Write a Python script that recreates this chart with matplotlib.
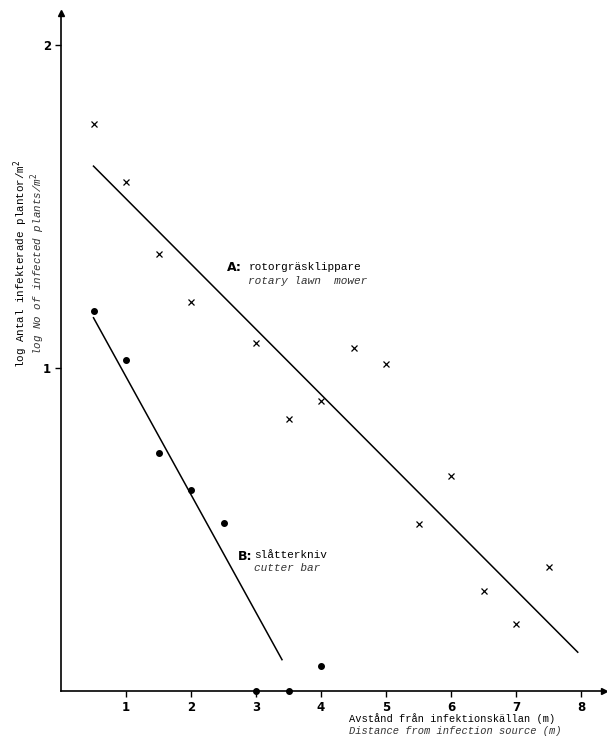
import numpy as np
from matplotlib import pyplot as plt

# A: rotorgräsklippare (kryss)
avstand_a = [0.5, 1.0, 1.5, 2.0, 3.0, 3.5, 4.0, 4.5, 5.0, 5.5, 6.0, 6.5, 7.0, 7.5]
logantal_a = [1.755, 1.576, 1.353, 1.204, 1.077, 0.842, 0.898, 1.062, 1.012, 0.517, 0.666, 0.310, 0.207, 0.384]

# B: slåtterkniv (cirklar)
avstand_b = [0.5, 1.0, 1.5, 2.0, 2.5, 3.0, 3.5, 4.0]
logantal_b = [1.176, 1.025, 0.737, 0.622, 0.520, 0.0, 0.0, 0.078]

# regressionslinjer: intercept, lutning, x-intervall
linje_a = (1.726, -0.202, 0.5, 7.95)
linje_b = (1.338, -0.365, 0.5, 3.40)

x_ticks = [1, 2, 3, 4, 5, 6, 7, 8]
y_ticks = [1, 2]

mono = 'Liberation Mono'

fig = plt.figure(figsize=(6.07, 7.48), dpi=100)
ax = fig.add_axes([61 / 607, 57 / 748, 8.35 * 65 / 607, 2.1 * 323 / 748])
ax.set_xlim(0, 8.35)
ax.set_ylim(0, 2.1)

for spine in ['top', 'right']:
    ax.spines[spine].set_visible(False)
for spine in ['left', 'bottom']:
    ax.spines[spine].set_linewidth(1.2)

# pilar på axlarna
ax.plot(1, 0, '>k', markersize=5, transform=ax.get_yaxis_transform(), clip_on=False)
ax.plot(0, 1, '^k', markersize=5, transform=ax.get_xaxis_transform(), clip_on=False)

ax.set_xticks(x_ticks)
ax.set_yticks(y_ticks)
ax.tick_params(direction='out', length=4, width=1, pad=3)
for lab in ax.get_xticklabels() + ax.get_yticklabels():
    lab.set_fontweight('bold')
    lab.set_fontsize(8.5)

ax.plot(avstand_a, logantal_a, 'x', color='black', markersize=4, markeredgewidth=0.9, clip_on=False)
ax.plot(avstand_b, logantal_b, 'o', color='black', markersize=4, clip_on=False, zorder=5)

for b0, b1, x0, x1 in [linje_a, linje_b]:
    xs = np.array([x0, x1])
    ax.plot(xs, b0 + b1 * xs, color='black', linewidth=1.1)

# etiketter vid linjerna
ax.text(2.55, 1.31, 'A:', fontsize=9, fontweight='bold', va='center')
ax.text(2.88, 1.313, 'rotorgräsklippare', family=mono, fontsize=8, va='center')
ax.text(2.88, 1.27, 'rotary lawn  mower', family=mono, fontsize=8, style='italic', va='center', color='#333333')

ax.text(2.72, 0.415, 'B:', fontsize=9, fontweight='bold', va='center')
ax.text(2.97, 0.42, 'slåtterkniv', family=mono, fontsize=8, va='center')
ax.text(2.97, 0.38, 'cutter bar', family=mono, fontsize=8, style='italic', va='center', color='#333333')

# axeltitlar
fig.text(349 / 607, 1 - 719 / 748, 'Avstånd från infektionskällan (m)', family=mono, fontsize=7.5, va='center')
fig.text(349 / 607, 1 - 731 / 748, 'Distance from infection source (m)', family=mono, fontsize=7.5,
         style='italic', va='center', color='#333333')

fig.text(21 / 607, 1 - 264 / 748, 'log Antal infekterade plantor/m$^2$', family=mono, fontsize=7.8,
         rotation=90, ha='center', va='center')
fig.text(38 / 607, 1 - 264 / 748, 'log No of infected plants/m$^2$', family=mono, fontsize=7.8,
         rotation=90, ha='center', va='center', style='italic', color='#333333')

plt.savefig('out.png', dpi=100)
